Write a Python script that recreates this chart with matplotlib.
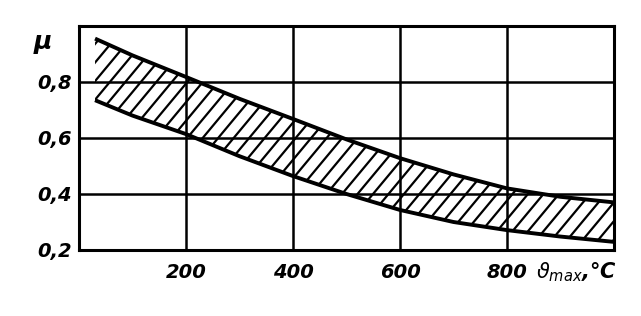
import matplotlib
matplotlib.use("Agg")
import matplotlib.pyplot as plt
import numpy as np

# data
temp = [30, 100, 200, 300, 400, 500, 600, 700, 800, 900, 1000]
mu_upper = [0.955, 0.895, 0.818, 0.74, 0.668, 0.595, 0.528, 0.47, 0.42, 0.39, 0.37]
mu_lower = [0.735, 0.68, 0.614, 0.535, 0.464, 0.40, 0.343, 0.30, 0.271, 0.248, 0.229]
x_ticks = [200, 400, 600, 800]
x_tick_labels = ["200", "400", "600", "800"]
y_ticks = [0.2, 0.4, 0.6, 0.8]
y_tick_labels = ["0,2", "0,4", "0,6", "0,8"]

W, H = 641, 316
L, R, T, B = 79, 614, 26, 250
fig = plt.figure(figsize=(W/100, H/100), dpi=100)
ax = fig.add_axes([L/W, 1 - B/H, (R-L)/W, (B-T)/H])
ax.set_xlim(0, 1000)
ax.set_ylim(0.2, 1.0)

band = ax.fill_between(temp, mu_lower, mu_upper, facecolor='none', linewidth=0)
clip_path = band.get_paths()[0]

# hatching: diagonal strokes clipped to the band (pixel-based spacing)
aw, ah = R - L, B - T
spacing, slope = 15.5, 1.2
for k in np.arange(-ah / slope, aw + 1, spacing):
    x0, x1 = k, k + ah / slope
    ln, = ax.plot([x0 / aw, x1 / aw], [0, 1], transform=ax.transAxes,
                  color='black', lw=1.6)
    ln.set_clip_path(clip_path, ax.transData)

ax.plot(temp, mu_upper, color='black', lw=2.8, solid_capstyle='butt')
ax.plot(temp, mu_lower, color='black', lw=2.8, solid_capstyle='butt')

ax.set_xticks(x_ticks)
ax.set_xticklabels(x_tick_labels)
ax.set_yticks(y_ticks)
ax.set_yticklabels(y_tick_labels)
ax.grid(True, color='black', lw=1.8)
ax.set_axisbelow(True)
ax.tick_params(length=0, labelsize=14)
ax.tick_params(axis='y', pad=5)
ax.tick_params(axis='x', pad=9)
for lab in ax.get_xticklabels() + ax.get_yticklabels():
    lab.set_fontweight('bold')
    lab.set_fontstyle('italic')
for s in ax.spines.values():
    s.set_linewidth(2.2)

ax.text(-0.05, 0.93, "μ", transform=ax.transAxes, ha='right', va='center',
        fontsize=18, fontweight='bold', fontstyle='italic')
ax.text(1.005, -0.045, r"$\vartheta_{max}$,°C", transform=ax.transAxes, ha='right', va='top',
        fontsize=15, fontweight='bold', fontstyle='italic')

fig.savefig("out.png", dpi=100)
